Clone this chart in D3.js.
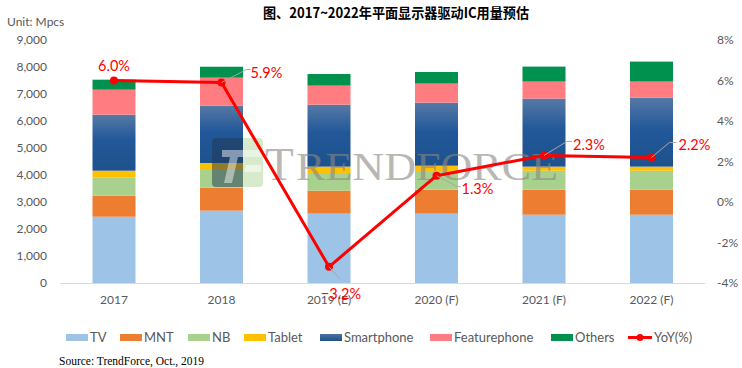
<!DOCTYPE html>
<html><head><meta charset="utf-8">
<script src="https://cdn.jsdelivr.net/npm/d3@7"></script>
<style>
html,body{margin:0;padding:0;background:#fff;}
svg{display:block;}
</style></head>
<body>
<svg id="chart" width="742" height="368"></svg>
<script>
// ---- data ----
const categories = ["2017", "2018", "2019 (E)", "2020 (F)", "2021 (F)", "2022 (F)"];
const tv           = [2455, 2680, 2570, 2570, 2530, 2530];
const mnt          = [780, 850, 850, 885, 925, 925];
const nb           = [665, 690, 655, 695, 705, 705];
const tablet       = [260, 225, 235, 195, 150, 150];
const smartphone   = [2075, 2125, 2295, 2335, 2520, 2550];
const featurephone = [925, 1035, 705, 705, 630, 600];
const others       = [370, 405, 430, 430, 555, 740];
const yoy          = [6.0, 5.9, -3.2, 1.3, 2.3, 2.2];
const seriesNames  = ["TV", "MNT", "NB", "Tablet", "Smartphone", "Featurephone", "Others"];
const leftTicks    = [0, 1000, 2000, 3000, 4000, 5000, 6000, 7000, 8000, 9000];
const rightTicks   = [-4, -2, 0, 2, 4, 6, 8];

// ---- styles ----
const colors = {TV:"#9dc3e6", MNT:"#ed7d31", NB:"#a9d18e", Tablet:"#ffc000",
  Smartphone:"url(#spGrad)", Featurephone:"#ff7c80", Others:"#00914f"};
const legendColors = {TV:"#9dc3e6", MNT:"#ed7d31", NB:"#a9d18e", Tablet:"#ffc000",
  Smartphone:"url(#spGradL)", Featurephone:"#ff7c80", Others:"#00914f"};
const labelFont = "Lato, 'Open Sans', sans-serif";
const grey = "#595959";

const svg = d3.select("#chart");
const defs = svg.append("defs");
const g1 = defs.append("linearGradient").attr("id","spGrad").attr("x1",0).attr("y1",0).attr("x2",0).attr("y2",1);
g1.append("stop").attr("offset","0%").attr("stop-color","#5679a5");
g1.append("stop").attr("offset","45%").attr("stop-color","#22589a");
g1.append("stop").attr("offset","100%").attr("stop-color","#1d528c");
const g2 = defs.append("linearGradient").attr("id","spGradL").attr("x1",0).attr("y1",0).attr("x2",0).attr("y2",1);
g2.append("stop").attr("offset","0%").attr("stop-color","#4c72a0");
g2.append("stop").attr("offset","100%").attr("stop-color","#1d528c");

// ---- scales ----
const x = d3.scaleBand().domain(categories).range([60.25, 705.25]).paddingInner(0.6).paddingOuter(0.3);
const y = d3.scaleLinear().domain([0, 9000]).range([283, 40]);
const y2 = d3.scaleLinear().domain([-4, 8]).range([283, 40]);

// ---- title / unit ----
svg.append("text").attr("x", 396).attr("y", 18).attr("text-anchor","middle")
  .attr("font-family","'Noto Sans CJK SC', sans-serif").attr("font-weight","bold")
  .attr("font-size", 14).attr("fill","#000").attr("textLength", 266).attr("lengthAdjust","spacingAndGlyphs")
  .text("图、2017~2022年平面显示器驱动IC用量预估");
svg.append("text").attr("x", 7).attr("y", 26).attr("font-family",labelFont)
  .attr("font-size", 12).attr("fill", grey).text("Unit: Mpcs");

// ---- axes ----
const leftAxis = d3.axisLeft(y).tickValues(leftTicks).tickFormat(d3.format(",")).tickSize(0).tickPadding(0);
const la = svg.append("g").attr("transform","translate(47,0)").call(leftAxis);
la.select(".domain").remove();
la.selectAll("text").attr("font-family",labelFont).attr("font-size",12).attr("fill",grey);

const rightAxis = d3.axisRight(y2).tickValues(rightTicks).tickFormat(d => d + "%").tickSize(0).tickPadding(0);
const ra = svg.append("g").attr("transform","translate(717,0)").call(rightAxis);
ra.select(".domain").remove();
ra.selectAll("text").attr("font-family",labelFont).attr("font-size",12).attr("fill",grey);

const bottomAxis = d3.axisBottom(x).tickSize(0).tickPadding(0);
const ba = svg.append("g").attr("transform","translate(0,295)").call(bottomAxis);
ba.select(".domain").remove();
ba.selectAll("text").attr("font-family",labelFont).attr("font-size",12).attr("fill",grey);

svg.append("line").attr("x1", 60).attr("x2", 705).attr("y1", y(0)+0.5).attr("y2", y(0)+0.5)
  .attr("stroke","#d9d9d9").attr("stroke-width",1);

// ---- stacked bars ----
const rows = categories.map((c, i) => ({cat:c, TV:tv[i], MNT:mnt[i], NB:nb[i], Tablet:tablet[i],
  Smartphone:smartphone[i], Featurephone:featurephone[i], Others:others[i]}));
const stack = d3.stack().keys(seriesNames)(rows);
svg.append("g").selectAll("g").data(stack).join("g")
  .attr("fill", d => colors[d.key])
  .selectAll("rect").data(d => d).join("rect")
  .attr("x", d => x(d.data.cat)).attr("width", x.bandwidth())
  .attr("y", d => y(d[1])).attr("height", d => y(d[0]) - y(d[1]));

// ---- watermark ----
const wm = svg.append("g");
wm.append("path").attr("d","M216,138 H243 V187 H216 Q212,187 212,183 V142 Q212,138 216,138 Z")
  .attr("fill","#1f3554").attr("opacity",0.5);
wm.append("path").attr("d","M243,138 H259 Q263,138 263,142 V183 Q263,187 259,187 H243 Z")
  .attr("fill","#a9d18e").attr("opacity",0.45);
wm.append("path").attr("d","M222,150 H262 V157 H238 L232,183 H224 L230,157 H222 Z")
  .attr("fill","#ffffff").attr("opacity",0.45);
wm.append("path").attr("d","M246,165 H261 V172 H244 Z").attr("fill","#ffffff").attr("opacity",0.5);
wm.append("text").attr("x",265).attr("y",180).attr("font-family","'Liberation Serif', serif")
  .attr("font-size",47).attr("fill","#8c8783").attr("opacity",0.6).text("T");
wm.append("text").attr("x",296).attr("y",180).attr("font-family","'Liberation Serif', serif")
  .attr("font-size",40).attr("fill","#8c8783").attr("opacity",0.6)
  .attr("textLength",262).attr("lengthAdjust","spacingAndGlyphs").text("RENDFORCE");

// ---- YoY line ----
const cx = c => x(c) + x.bandwidth()/2;
const lineData = categories.map((c, i) => ({cat:c, v:yoy[i]}));
svg.append("path").datum(lineData)
  .attr("d", d3.line().x(d => cx(d.cat)).y(d => y2(d.v)))
  .attr("fill","none").attr("stroke","#ff0000").attr("stroke-width",3).attr("stroke-linejoin","round");
svg.append("g").selectAll("circle").data(lineData).join("circle")
  .attr("cx", d => cx(d.cat)).attr("cy", d => y2(d.v)).attr("r", 4).attr("fill","#ff0000");

// label placement relative to each point
const labelPos = [
  {tx:0, ty:-15, anchor:"middle", leader:null},
  {tx:29, ty:-10, anchor:"start", leader:[[0,0],[25,-13],[29,-13]]},
  {tx:12, ty:27, anchor:"middle", leader:[[0,0],[11,12]]},
  {tx:25, ty:13, anchor:"start", leader:[[0,0],[21,11],[24,11]]},
  {tx:29, ty:-11, anchor:"start", leader:[[0,0],[23,-14],[28,-14]]},
  {tx:27, ty:-13, anchor:"start", leader:[[0,0],[18,-15],[25,-15]]}
];
const lbl = svg.append("g");
lineData.forEach((d, i) => {
  const px = cx(d.cat), py = y2(d.v), p = labelPos[i];
  if (p.leader) {
    lbl.append("polyline").attr("points", p.leader.map(q => (px+q[0]) + "," + (py+q[1])).join(" "))
      .attr("fill","none").attr("stroke","#a6a6a6").attr("stroke-width",1);
  }
  lbl.append("text").attr("x", px + p.tx).attr("y", py + p.ty).attr("dy","0.35em")
    .attr("text-anchor", p.anchor).attr("font-family",labelFont).attr("font-size",14.5)
    .attr("fill","#ff0000").text(d3.format(".1f")(d.v) + "%");
});

// ---- legend ----
const legendX = [66, 120, 188, 244, 320, 430, 551];
const lg = svg.append("g").attr("font-family",labelFont).attr("font-size",13).attr("fill",grey);
seriesNames.forEach((s, i) => {
  lg.append("rect").attr("x", legendX[i]).attr("y", 334).attr("width", 22).attr("height", 7).attr("fill", legendColors[s]);
  lg.append("text").attr("x", legendX[i] + 24).attr("y", 337.5).attr("dy","0.35em").text(s);
});
lg.append("line").attr("x1",628).attr("x2",652).attr("y1",337.5).attr("y2",337.5).attr("stroke","#ff0000").attr("stroke-width",3);
lg.append("circle").attr("cx",640).attr("cy",337.5).attr("r",3.5).attr("fill","#ff0000");
lg.append("text").attr("x",654).attr("y",337.5).attr("dy","0.35em").text("YoY(%)");

// ---- source ----
svg.append("text").attr("x",59).attr("y",364.5).attr("font-family","'Liberation Serif', serif")
  .attr("font-size",11.5).attr("fill","#000").text("Source: TrendForce, Oct., 2019");
</script>
</body></html>
